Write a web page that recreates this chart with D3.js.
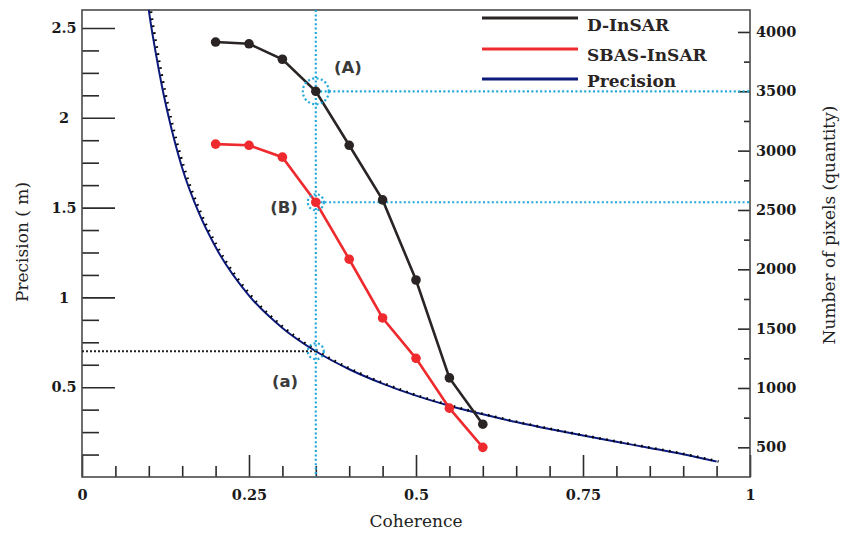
<!DOCTYPE html>
<html>
<head>
<meta charset="utf-8">
<script src="https://cdn.jsdelivr.net/npm/d3@7"></script>
<style>
  body { margin: 0; background: #fff; }
  svg text { font-family: "DejaVu Serif", serif; }
</style>
</head>
<body>
<div id="viz"></div>
<script>
// ---- data ----
var coherence = [0.2, 0.25, 0.3, 0.35, 0.4, 0.45, 0.5, 0.55, 0.6];
var dInsar    = [3915, 3900, 3770, 3500, 3045, 2585, 1910, 1085, 695];
var sbasInsar = [3055, 3045, 2945, 2565, 2085, 1590, 1250, 830, 500];

var precisionCoh = [0.095, 0.1, 0.11, 0.12, 0.13, 0.15, 0.175, 0.2, 0.25, 0.3, 0.35, 0.4,
                    0.45, 0.5, 0.55, 0.6, 0.65, 0.7, 0.75, 0.8, 0.85, 0.9, 0.95];
var precisionVal = [2.75, 2.60, 2.37, 2.17, 2.00, 1.72, 1.47, 1.28, 1.01, 0.83, 0.70, 0.60,
                    0.52, 0.453, 0.397, 0.349, 0.306, 0.267, 0.231, 0.196, 0.162, 0.127, 0.086];

var xTicks = [0, 0.25, 0.5, 0.75, 1];
var xMinor = [0.05, 0.1, 0.15, 0.2, 0.3, 0.35, 0.4, 0.45, 0.55, 0.6, 0.65, 0.7, 0.8, 0.85, 0.9, 0.95];
var yLeftTicks = [0.5, 1, 1.5, 2, 2.5];
var yLeftMinor = [0.125, 0.25, 0.375, 0.625, 0.75, 0.875, 1.125, 1.25, 1.375,
                  1.625, 1.75, 1.875, 2.125, 2.25, 2.375];
var yRightTicks = [500, 1000, 1500, 2000, 2500, 3000, 3500, 4000];
var yRightMinor = [750, 1250, 1750, 2250, 2750, 3250, 3750];

var legendNames = ["D-InSAR", "SBAS-InSAR", "Precision"];
var legendColors = ["#2a2424", "#ee2a2e", "#0c1a7c"];

// marked coherence threshold
var markCoh = 0.35, markA = 3500, markB = 2565, markPrec = 0.70;

// ---- setup ----
var W = 843, H = 534;
var L = 82, R = 750, T = 10, B = 477;
var CYAN = "#22a8d8";

var svg = d3.select("#viz").append("svg")
    .attr("width", W)
    .attr("height", H);

var x = d3.scaleLinear().domain([0, 1]).range([L, R]);
var yL = d3.scaleLinear().domain([0, 2.6]).range([B, T]);
var yR = d3.scaleLinear().domain([250, 4185]).range([B, T]);

svg.append("clipPath").attr("id", "plot")
  .append("rect").attr("x", L).attr("y", T).attr("width", R - L).attr("height", B - T);

// ---- axes ----
function styleAxis(g) {
    g.select(".domain").remove();
    g.selectAll("line").attr("stroke", "#2a2a2a").attr("stroke-width", 1.6);
    g.selectAll("text")
        .attr("fill", "#1a1a1a")
        .style("font-family", "DejaVu Serif")
        .style("font-weight", "bold")
        .style("font-size", "14.5px");
}

svg.append("g").attr("transform", "translate(0," + B + ")")
    .call(d3.axisBottom(x).tickValues(xTicks).tickSize(-22).tickPadding(13)
        .tickFormat(d3.format("")))
    .call(styleAxis);
svg.append("g").attr("transform", "translate(0," + B + ")")
    .call(d3.axisBottom(x).tickValues(xMinor).tickSize(-11).tickFormat(""))
    .call(styleAxis);

var gl = svg.append("g").attr("transform", "translate(" + L + ",0)")
    .call(d3.axisLeft(yL).tickValues(yLeftTicks).tickSize(-33).tickFormat(d3.format("")))
    .call(styleAxis);
gl.selectAll("text").attr("x", -18).attr("text-anchor", "middle");
svg.append("g").attr("transform", "translate(" + L + ",0)")
    .call(d3.axisLeft(yL).tickValues(yLeftMinor).tickSize(-17).tickFormat(""))
    .call(styleAxis);

svg.append("g").attr("transform", "translate(" + R + ",0)")
    .call(d3.axisRight(yR).tickValues(yRightTicks).tickSize(-12).tickPadding(6)
        .tickFormat(d3.format("d")))
    .call(styleAxis);
svg.append("g").attr("transform", "translate(" + R + ",0)")
    .call(d3.axisRight(yR).tickValues(yRightMinor).tickSize(-6).tickFormat(""))
    .call(styleAxis);

// frame
svg.append("rect")
    .attr("x", L).attr("y", T).attr("width", R - L).attr("height", B - T)
    .attr("fill", "none").attr("stroke", "#4a4a4a").attr("stroke-width", 1.6);

// axis titles
svg.append("text").attr("x", (L + R) / 2).attr("y", 527)
    .attr("text-anchor", "middle").style("font-size", "17px").attr("fill", "#222")
    .text("Coherence");
svg.append("text").attr("transform", "translate(28,242) rotate(-90)")
    .attr("text-anchor", "middle").style("font-size", "17px").attr("fill", "#222")
    .text("Precision ( m)");
svg.append("text").attr("transform", "translate(835,225) rotate(-90)")
    .attr("text-anchor", "middle").style("font-size", "17px").attr("fill", "#222")
    .text("Number of pixels (quantity)");

// ---- precision curve ----
var plot = svg.append("g").attr("clip-path", "url(#plot)");
var precLine = d3.line()
    .x(function(d, i){ return x(precisionCoh[i]); })
    .y(function(d){ return yL(d); })
    .curve(d3.curveMonotoneX);

plot.append("path").datum(precisionVal)
    .attr("d", precLine)
    .attr("fill", "none").attr("stroke", legendColors[2]).attr("stroke-width", 2);
plot.append("path").datum(precisionVal)
    .attr("d", precLine)
    .attr("transform", "translate(2,0)")
    .attr("fill", "none").attr("stroke", "#000").attr("stroke-width", 2.6)
    .attr("stroke-dasharray", "1.6,5.5");

// ---- guide lines ----
svg.append("line")
    .attr("x1", L).attr("x2", x(markCoh)).attr("y1", yL(markPrec)).attr("y2", yL(markPrec))
    .attr("stroke", "#222").attr("stroke-width", 1.8).attr("stroke-dasharray", "2,2");

svg.append("line")
    .attr("x1", x(markCoh)).attr("x2", x(markCoh)).attr("y1", T).attr("y2", B)
    .attr("stroke", CYAN).attr("stroke-width", 2.2).attr("stroke-dasharray", "2,2.4");
[markA, markB].forEach(function(v){
    svg.append("line")
        .attr("x1", x(markCoh)).attr("x2", R).attr("y1", yR(v)).attr("y2", yR(v))
        .attr("stroke", CYAN).attr("stroke-width", 2.2).attr("stroke-dasharray", "2,2.4");
});

// ---- pixel series ----
function series(vals, color) {
    var line = d3.line()
        .x(function(d, i){ return x(coherence[i]); })
        .y(function(d){ return yR(d); });
    svg.append("path").datum(vals)
        .attr("d", line)
        .attr("fill", "none").attr("stroke", color).attr("stroke-width", 2.6);
    svg.selectAll(null).data(vals).enter()
        .append("circle")
        .attr("cx", function(d, i){ return x(coherence[i]); })
        .attr("cy", function(d){ return yR(d); })
        .attr("r", 4.8)
        .attr("fill", color);
}
series(sbasInsar, legendColors[1]);
series(dInsar, legendColors[0]);

// ---- dashed circles ----
function ring(cx, cy, r) {
    svg.append("circle").attr("cx", cx).attr("cy", cy).attr("r", r)
        .attr("fill", "none").attr("stroke", CYAN).attr("stroke-width", 2.2)
        .attr("stroke-dasharray", "2,2.4");
}
ring(x(markCoh), yR(markA), 13);
ring(x(markCoh), yR(markB), 8);
ring(x(markCoh), yL(markPrec), 8);

// annotations
function note(txt, cx, cy) {
    svg.append("text").attr("x", cx).attr("y", cy + 6)
        .attr("text-anchor", "middle")
        .style("font-family", "DejaVu Sans").style("font-weight", "bold").style("font-size", "16.5px")
        .attr("fill", "#3a3a3a")
        .text(txt);
}
note("(A)", 348, 67);
note("(B)", 284, 207);
note("(a)", 285, 381);

// ---- legend ----
var lg = svg.selectAll("g.legend").data(legendNames).enter()
    .append("g").attr("class", "legend");
var legendY = [18, 49, 79], legendText = [31, 61, 87];
lg.append("line")
    .attr("x1", 482).attr("x2", 578)
    .attr("y1", function(d, i){ return legendY[i]; })
    .attr("y2", function(d, i){ return legendY[i]; })
    .attr("stroke", function(d, i){ return legendColors[i]; })
    .attr("stroke-width", 3.2);
lg.append("text")
    .attr("x", 587)
    .attr("y", function(d, i){ return legendText[i]; })
    .style("font-weight", "bold").style("font-size", "17px")
    .attr("fill", "#2a2424")
    .text(function(d){ return d; });
</script>
</body>
</html>
